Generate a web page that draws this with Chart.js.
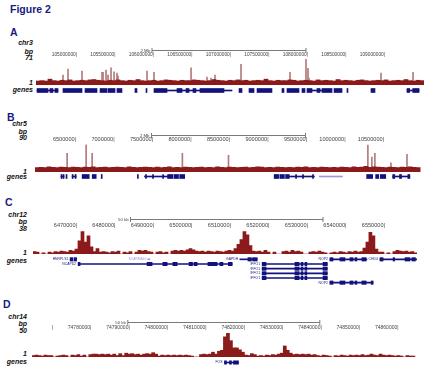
<!DOCTYPE html>
<html>
<head>
<meta charset="utf-8">
<script src="https://cdn.jsdelivr.net/npm/chart.js@4.4.1/dist/chart.umd.min.js"></script>
<style>
  body { margin: 0; background: #fff; }
  #fig { position: relative; width: 434px; height: 384px; overflow: hidden; font-family: "Liberation Sans", Arial, sans-serif; }
  #fig canvas { position: absolute; left: 0; }
  .lbl { position: absolute; left: 0; text-align: right; font-weight: bold; font-style: italic; font-size: 7px; line-height: 8px; color: #111; }
  .letter { position: absolute; font-weight: bold; font-size: 10.5px; line-height: 12px; color: #1a1a80; }
</style>
</head>
<body>
<div id="fig"></div>
<script>
const fig = document.getElementById("fig");
const red = "#8b1a1a";
const spikeRed = "#b47a7a";
const navy = "#12127e";
const faint = "#9a9ad0";

// ---- panel A : chr3 (Mb)
const aMin = 104.4675, aMax = 109.5065;
const aBinStart = 104.4675, aBinW = 0.05195;
const aBase = [11,12,11,16,12,11,13,12,14,11, 12,13,12,14,15,13,12,11,13,12, 14,12,11,13,12,15,12,11,12,13,
  11,12,14,13,12,11,13,12,12,14, 13,12,11,12,15,13,12,11,13,12, 14,12,13,11,12,13,12,16,12,11,
  13,12,12,14,13,11,12,13,12,11, 14,12,13,12,11,15,12,13,12,11, 13,14,12,11,12,13,12,14,11,12,
  13,12,15,12,11,13,12];
const aSpikeX = [104.818,104.883,105.065,105.325,105.338,105.377,105.403,105.442,105.481,105.519,105.532,
  105.909,106.000,106.481,106.688,106.740,106.792,107.130,107.299,107.766,107.974,108.000,108.013,108.948,109.364];
const aSpikeY = [27,44,38,35,35,41,27,47,36,33,25,38,35,47,22,19,27,57,11,35,71,46,19,33,35];
const aTickVals = [105,105.5,106,106.5,107,107.5,108,108.5,109];
const aTickLabels = ["105000000","105500000","106000000","106500000","107000000","107500000","108000000","108500000","109000000"];
const aExons = [[104.481,104.623],[104.649,104.688],[104.714,104.753],[104.818,105.065],[105.104,105.260],[105.299,105.390],
  [105.403,105.494],[105.519,105.584],[105.753,105.779],[105.896,105.909],[106.000,106.169],[106.299,106.364],[106.416,106.455],
  [106.506,106.545],[106.597,106.909],[107.104,107.143],[107.234,107.299],[107.338,107.532],[107.662,107.688],[107.727,107.883],
  [107.922,107.961],[107.987,108.052],[108.117,108.156],[108.182,108.312],[108.338,108.442],[108.506,108.519],[108.818,108.870],
  [109.286,109.320],[109.360,109.442]];
const aIntrons = [[104.481,104.753],[106.169,106.299],[106.364,106.597],[106.909,107.013],[108.039,108.182],[109.286,109.442]];

// ---- panel B : chr5 (Mb)
const bMin = 5.966, bMax = 10.979;
const bBinStart = 5.966, bBinW = 0.0521;
const bBase = [14,15,14,17,15,14,16,15,14,16, 15,14,16,15,17,14,15,16,14,15, 16,15,14,17,15,14,15,16,15,14,
  16,14,15,17,14,15,14,16,15,14, 15,16,14,15,14,17,15,14,16,15, 14,15,16,14,15,17,16,14,15,14,
  16,15,14,15,14,16,15,17,14,15, 14,16,15,14,15,14,16,15,14,17, 15,16,18,15,17,16,15,14,16,15,
  14,16,15,17,15,14];
const bSpikeX = [6.383,6.630,6.708,7.880,8.479,10.289,10.341,10.380,10.589,10.797];
const bSpikeY = [60,88,60,60,54,87,48,60,30,57];
const bTickVals = [6.5,7,7.5,8,8.5,9,9.5,10,10.5];
const bTickLabels = ["6500000","7000000","7500000","8000000","8500000","9000000","9500000","10000000","10500000"];
const bExons = [[6.304,6.317],[6.330,6.343],[6.369,6.382],[6.448,6.461],[6.487,6.500],[6.578,6.670],[6.709,6.761],[6.826,6.839],
  [7.296,7.309],[7.401,7.414],[7.492,7.505],[7.623,7.636],[7.688,7.755],[7.770,7.830],[7.845,7.910],[9.072,9.130],[9.145,9.205],
  [9.220,9.268],[9.350,9.363],[9.440,9.453],[9.570,9.583],[10.273,10.351],[10.390,10.430],[10.450,10.521],[10.612,10.638],
  [10.700,10.726],[10.808,10.834]];
const bIntrons = [[6.304,6.343],[6.448,6.500],[7.388,7.714],[9.268,9.594],[10.612,10.834]];
const bFaint = [[9.659,9.959]];

// ---- panel C : chr12 (kb)
const cMin = 6458.57, cMax = 6558.31;
const cBinStart = 6458.57, cBinW = 0.779;
const cVals = [4,3,0,2,0,3,2,4,3,5, 4,3,6,5,8,22,38,20,30,12, 4,9,3,4,3,2,4,3,5,0, 3,2,4,0,3,6,5,6,4,3,
  0,3,4,2,3,0,5,6,5,6, 5,7,9,7,5,4,5,3,5,4, 3,5,4,3,5,6,5,9,16,24, 38,32,14,5,4,5,3,6,3,0,
  3,0,0,4,5,3,6,4,5,3, 0,0,3,4,3,5,3,2,0,2, 3,2,4,3,2,4,3,5,3,4, 10,20,36,30,8,3,3,0,2,0,
  4,6,5,4,5,3,4,2];
const cTickVals = [6470,6480,6490,6500,6510,6520,6530,6540,6550];
const cTickLabels = ["6470000","6480000","6490000","6500000","6510000","6520000","6530000","6540000","6550000"];
const cExons = [[6468.2,6468.9,0],[6469.2,6469.9,0],[6514.4,6515.3,0],[6515.6,6516.8,0],
  [6535.7,6536.5,0],[6538.3,6539.6,0],[6540.9,6541.7,0],[6542.2,6542.7,0],[6544.0,6545.1,0],
  [6548.7,6549.5,0],[6552.1,6552.5,0],[6555.2,6556.5,0],[6557.0,6557.9,0],
  [6470.3,6470.8,1],[6488.2,6489.5,1],[6492.3,6493.4,1],[6494.9,6496.0,1],[6499.1,6500.0,1],[6500.4,6501.2,1],
  [6504.0,6506.4,1],[6507.1,6507.9,1],[6509.3,6510.3,1],
  [6518.1,6519.1,1],[6526.6,6527.7,1],[6528.2,6528.7,1],[6529.2,6529.7,1],[6533.9,6535.0,1],
  [6518.1,6519.1,2],[6526.6,6527.7,2],[6528.2,6528.7,2],[6529.2,6529.7,2],[6533.9,6535.0,2],
  [6518.1,6519.1,3],[6526.6,6527.7,3],[6528.2,6528.7,3],[6529.2,6529.7,3],[6533.9,6535.0,3],
  [6518.1,6519.1,4],[6526.6,6527.7,4],[6528.2,6528.7,4],[6529.2,6529.7,4],[6533.9,6535.0,4],
  [6535.7,6536.5,5],[6538.3,6539.6,5],[6540.9,6541.7,5],[6542.2,6542.7,5],[6544.0,6545.1,5],[6546.4,6546.9,5]];
const cIntrons = [[6512.3,6516.8,0],[6535.7,6545.3,0],[6548.7,6558.3,0],[6470.3,6510.3,1],
  [6518.1,6535.0,1],[6518.1,6535.0,2],[6518.1,6535.0,3],[6518.1,6535.0,4],[6535.7,6546.9,5]];
const cFaint = [[6488.4,6488.9,0]];
const cNames = [["HNRPLS1",6468.0,0],["SCARNA10",6488.3,0,faint],["GAPDH",6512.1,0],["NOP2",6535.4,0],["CHD4",6548.4,0],
  ["NCAPD2",6470.0,1],["IFFO1",6517.8,1],["IFFO1",6517.8,2],["IFFO1",6517.8,3],["IFFO1",6517.8,4],["NOP2",6535.4,5]];

// ---- panel D : chr14 (kb)
const dMin = 74764.55, dMax = 74864.55;
const dBinStart = 74764.55, dBinW = 0.779;
const dVals = [3,4,3,2,4,3,3,0,2,3, 4,3,0,4,3,5,2,4,0,5, 6,6,5,6,5,6,4,6,3,7, 3,8,6,7,5,6,4,6,7,6,
  9,6,2,4,3,4,3,4,3,4, 3,4,3,2,0,0,5,6,5,6, 10,6,12,14,42,50,34,19,19,15, 10,4,3,7,5,2,3,2,4,3,
  5,4,6,8,23,14,8,5,6,5, 6,5,6,4,5,3,2,4,3,2, 0,3,2,4,3,2,4,3,4,3, 5,3,4,6,4,3,6,4,3,4,
  3,2,3,2,0,3,2,2];
const dTickVals = [74770,74780,74790,74800,74810,74820,74830,74840,74850,74860];
const dTickLabels = ["","74780000","74790000","74800000","74810000","74820000","74830000","74840000","74850000","74860000"];
const dExons = [[74814.68,74815.19],[74815.97,74816.49],[74817.01,74818.31]];
const dIntrons = [[74814.68,74818.31]];
const dNames = [["FOS",74814.4,0]];

function scaleBar(b) {
  return {
    id: "scaleBar",
    afterDraw(chart) {
      const { ctx, chartArea, scales: { x } } = chart;
      const y = Math.round(chartArea.top - b.dy) + 0.5;
      const x1 = x.getPixelForValue(b.from), x2 = x.getPixelForValue(b.to);
      ctx.save();
      ctx.strokeStyle = "#7a7a7a";
      ctx.lineWidth = 1;
      ctx.beginPath();
      ctx.moveTo(x1, y); ctx.lineTo(x2, y);
      ctx.moveTo(x1, y - 2.5); ctx.lineTo(x1, y + 2.5);
      ctx.moveTo(x2, y - 2.5); ctx.lineTo(x2, y + 2.5);
      ctx.stroke();
      ctx.fillStyle = "#444";
      ctx.font = "4.3px 'Liberation Sans'";
      ctx.textAlign = "right";
      ctx.textBaseline = "middle";
      ctx.fillText(b.text, x1 - 2, y);
      ctx.restore();
    }
  };
}

function geneLabels(items) {
  return {
    id: "geneLabels",
    afterDatasetsDraw(chart) {
      const { ctx, scales: { x, y } } = chart;
      ctx.save();
      ctx.font = "3.4px 'Liberation Sans'";
      ctx.textAlign = "right";
      ctx.textBaseline = "middle";
      items.forEach(it => {
        ctx.fillStyle = it[3] || navy;
        ctx.fillText(it[0], x.getPixelForValue(it[1]) - 1, y.getPixelForValue(it[2]));
      });
      ctx.restore();
    }
  };
}

function binsToPoints(start, w, vals) {
  return vals.map((v, i) => ({ x: start + (i + 0.5) * w, y: v }));
}

function makeSignal(p) {
  const cv = document.createElement("canvas");
  const canvasTop = p.top - 18;
  cv.width = 434;
  cv.height = p.base - canvasTop;
  cv.style.top = canvasTop + "px";
  fig.appendChild(cv);
  const half = 0.6 * p.fs;
  const tickPad = p.top - p.tickY - half;
  new Chart(cv, {
    type: "bar",
    data: { datasets: p.datasets },
    options: {
      responsive: false,
      animation: false,
      events: [],
      layout: { padding: { left: p.left, right: 434 - p.right, top: 18 - 2 * half - tickPad, bottom: 0 } },
      plugins: { legend: { display: false }, tooltip: { enabled: false } },
      scales: {
        x: {
          type: "linear", position: "top", min: p.min, max: p.max, offset: false,
          grid: { display: false, drawTicks: false }, border: { display: false },
          afterBuildTicks: s => { s.ticks = p.ticks.map(v => ({ value: v })); },
          ticks: {
            align: "end", padding: tickPad, color: "#444", maxRotation: 0, autoSkip: false,
            font: { size: p.fs, family: "Liberation Sans" },
            callback: (v, i) => p.tickLabels[i] + "|"
          }
        },
        y: { display: false, min: 0, max: p.ymax }
      }
    },
    plugins: [scaleBar(p.bar)]
  });
}

function makeGenes(p) {
  const cv = document.createElement("canvas");
  cv.width = 434;
  cv.height = p.height;
  cv.style.top = p.top + "px";
  fig.appendChild(cv);
  const pts = arr => arr.map(g => ({ x: [g[0], g[1]], y: g[2] || 0 }));
  const sets = [
    { data: pts(p.introns), backgroundColor: navy, barThickness: 1, grouped: false },
    { data: pts(p.exons), backgroundColor: navy, barThickness: p.thick || 3.4, grouped: false }
  ];
  if (p.faint) sets.push({ data: pts(p.faint), backgroundColor: faint, barThickness: 1, grouped: false });
  new Chart(cv, {
    type: "bar",
    data: { datasets: sets },
    options: {
      indexAxis: "y",
      responsive: false,
      animation: false,
      events: [],
      layout: { padding: { left: p.left, right: 434 - p.right, top: 0, bottom: 0 } },
      plugins: { legend: { display: false }, tooltip: { enabled: false } },
      scales: {
        x: { type: "linear", display: false, min: p.min, max: p.max },
        y: { type: "linear", display: false, min: -0.5, max: p.rows - 0.5, reverse: true, offset: false }
      }
    },
    plugins: p.names ? [geneLabels(p.names)] : []
  });
}

function text(cls, str, x, y, right) {
  const d = document.createElement("div");
  d.className = cls;
  d.textContent = str;
  if (right) { d.style.width = right + "px"; d.style.top = (y - 4) + "px"; }
  else { d.style.left = x + "px"; d.style.top = (y - 6) + "px"; }
  fig.appendChild(d);
}

text("letter", "Figure 2", 10, 9);
text("letter", "A", 10, 32);
text("letter", "B", 7, 117);
text("letter", "C", 5, 202);
text("letter", "D", 3, 304);

[["chr3",43],["bp",51.5],["71",58],["1",83],["genes",90]].forEach(t => text("lbl", t[0], 0, t[1], 33));
[["chr5",124],["bp",131.5],["90",138],["1",171.5],["genes",176.5]].forEach(t => text("lbl", t[0], 0, t[1], 27));
[["chr12",215],["bp",222],["38",228.5],["1",253],["genes",261]].forEach(t => text("lbl", t[0], 0, t[1], 27));
[["chr14",317],["bp",324],["50",330.5],["1",354],["genes",362]].forEach(t => text("lbl", t[0], 0, t[1], 27));

// A
makeSignal({
  top: 58, base: 85, tickY: 54, left: 36, right: 424, min: aMin, max: aMax, ymax: 71, fs: 4.8,
  ticks: aTickVals, tickLabels: aTickLabels,
  bar: { from: 105.974, to: 107.974, text: "2 Mb", dy: 9 },
  datasets: [
    { data: binsToPoints(aBinStart, aBinW, aBase), backgroundColor: red, barThickness: 4.1, grouped: false, order: 1 },
    { data: aSpikeX.map((x, i) => ({ x, y: aSpikeY[i] })), backgroundColor: spikeRed, barThickness: 1, grouped: false, order: 2 }
  ]
});
makeGenes({ top: 88, height: 5, left: 36, right: 424, min: aMin, max: aMax, rows: 1, exons: aExons, introns: aIntrons, thick: 4 });

// B
makeSignal({
  top: 143, base: 172, tickY: 138.5, left: 35, right: 421, min: bMin, max: bMax, ymax: 90, fs: 5.6,
  ticks: bTickVals, tickLabels: bTickLabels,
  bar: { from: 7.479, to: 9.479, text: "2 Mb", dy: 9 },
  datasets: [
    { data: binsToPoints(bBinStart, bBinW, bBase), backgroundColor: red, barThickness: 4.1, grouped: false, order: 1 },
    { data: bSpikeX.map((x, i) => ({ x, y: bSpikeY[i] })), backgroundColor: spikeRed, barThickness: 1, grouped: false, order: 2 }
  ]
});
makeGenes({ top: 174, height: 5, left: 35, right: 421, min: bMin, max: bMax, rows: 1, exons: bExons, introns: bIntrons, faint: bFaint, thick: 4 });

// C
makeSignal({
  top: 229, base: 254, tickY: 223.5, left: 33, right: 417, min: cMin, max: cMax, ymax: 38, fs: 5.6,
  ticks: cTickVals, tickLabels: cTickLabels,
  bar: { from: 6483.9, to: 6533.9, text: "50 kb", dy: 12 },
  datasets: [
    { data: binsToPoints(cBinStart, cBinW, cVals), backgroundColor: red, barThickness: 3.05, grouped: false }
  ]
});
makeGenes({ top: 256.5, height: 28.5, left: 33, right: 417, min: cMin, max: cMax, rows: 6,
  exons: cExons, introns: cIntrons, faint: cFaint, names: cNames });

// D
makeSignal({
  top: 331, base: 357, tickY: 326, left: 32, right: 416, min: dMin, max: dMax, ymax: 50, fs: 5.0,
  ticks: dTickVals, tickLabels: dTickLabels,
  bar: { from: 74789.5, to: 74839.5, text: "50 kb", dy: 11 },
  datasets: [
    { data: binsToPoints(dBinStart, dBinW, dVals), backgroundColor: red, barThickness: 3.05, grouped: false }
  ]
});
makeGenes({ top: 359.5, height: 5, left: 32, right: 416, min: dMin, max: dMax, rows: 1,
  exons: dExons, introns: dIntrons, names: dNames });
</script>
</body>
</html>
